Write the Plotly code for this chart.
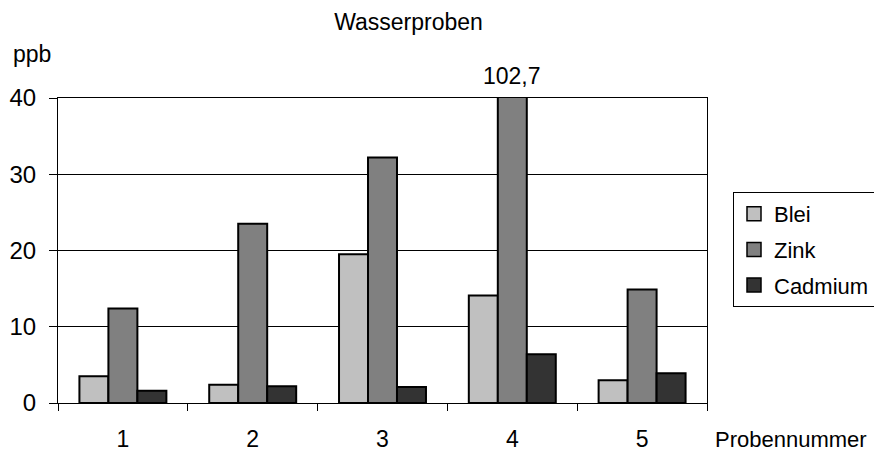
import plotly.graph_objects as go

categories = ["1", "2", "3", "4", "5"]
blei = [3.5, 2.4, 19.5, 14.1, 3.0]
zink = [12.4, 23.5, 32.2, 102.7, 14.9]
cadmium = [1.6, 2.2, 2.1, 6.4, 3.9]
series_names = ["Blei", "Zink", "Cadmium"]
series_colors = ["#c0c0c0", "#808080", "#333333"]
y_ticks = [0, 10, 20, 30, 40]

# page body has an 8px margin; work in screen pixels and convert
OFF = 8
SW, SH = 882, 452
W, H = SW - OFF, SH - OFF
PX0, PX1, PY0, PY1 = 58, 707, 98, 403  # plot area in screen px
L, T = PX0 - OFF, PY0 - OFF
R, B = W - (PX1 - OFF), H - (PY1 - OFF)
pw, ph = PX1 - PX0, PY1 - PY0


def px(xs):
    return (xs - PX0) / pw


def py(ys):
    return (PY1 - ys) / ph


FONT = "Liberation Sans"
FS = 23

fig = go.Figure()
for name, vals, col in zip(series_names, [blei, zink, cadmium], series_colors):
    fig.add_trace(go.Bar(
        x=categories, y=vals, name=name, showlegend=False,
        marker=dict(color=col, line=dict(color="black", width=2)),
    ))
# legend entries (square swatches)
for name, col in zip(series_names, series_colors):
    fig.add_trace(go.Scatter(
        x=[None], y=[None], name=name, mode="markers", legendgroup=name,
        marker=dict(symbol="square", size=14, color=col, line=dict(color="black", width=1.5)),
    ))

# clipped value label
idx = max(range(len(zink)), key=lambda i: zink[i])
fig.add_annotation(
    x=idx, y=y_ticks[-1], xref="x", yref="y",
    text=f"{zink[idx]:.1f}".replace(".", ","),
    showarrow=False, yanchor="bottom", yshift=7,
    font=dict(size=FS, color="black", family=FONT),
)
fig.add_annotation(
    x=px(11), y=py(54), xref="paper", yref="paper",
    text="ppb", showarrow=False, xanchor="left", yanchor="middle",
    font=dict(size=FS, color="black", family=FONT),
)
fig.add_annotation(
    x=px(714), y=py(439), xref="paper", yref="paper",
    text="Probennummer", showarrow=False, xanchor="left", yanchor="middle",
    borderpad=0,
    font=dict(size=22, color="black", family=FONT),
)

fig.update_layout(
    width=W, height=H,
    margin=dict(l=L, r=R, t=T, b=B, autoexpand=False),
    paper_bgcolor="white", plot_bgcolor="white",
    barmode="group", bargap=0.33, bargroupgap=0,
    font=dict(family=FONT, size=FS, color="black"),
    title=dict(text="Wasserproben", x=(408.5 - OFF) / W, xref="container", xanchor="center",
               y=1 - (22 - OFF) / H, yref="container", yanchor="middle",
               font=dict(size=FS, color="black", family=FONT)),
    showlegend=True,
    legend=dict(
        x=px(733), y=py(192), xanchor="left", yanchor="top",
        bordercolor="black", borderwidth=1, bgcolor="white",
        font=dict(size=22, color="black", family=FONT),
        itemwidth=30, tracegroupgap=4, itemsizing="trace",
    ),
    xaxis=dict(
        type="category", showgrid=False, showline=True, linecolor="black", linewidth=1,
        ticks="outside", tickson="boundaries", ticklen=7, tickcolor="black",
        ticklabelstandoff=15, tickfont=dict(size=FS), mirror=True, automargin=False,
    ),
    yaxis=dict(
        range=[0, 40], tickvals=y_ticks, showgrid=True, gridcolor="black", gridwidth=1,
        showline=True, linecolor="black", linewidth=1, mirror=True,
        ticks="outside", ticklen=8, tickcolor="black", ticklabelstandoff=8,
        tickfont=dict(size=FS + 1), zeroline=False, automargin=False,
    ),
)

fig.write_html("out.html")
